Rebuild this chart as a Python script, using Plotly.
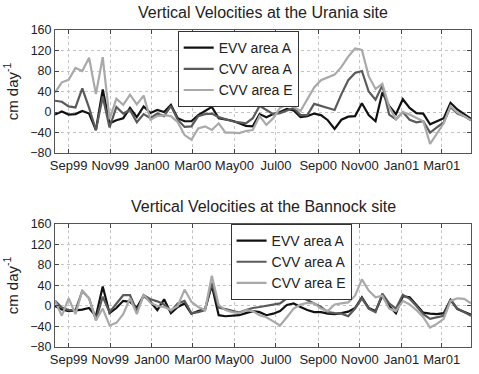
import pandas as pd
import plotly.graph_objects as go
from plotly.subplots import make_subplots

# ~10-day sampling dates
dates = pd.date_range("1999-08-12", periods=62, freq="10D")

series_names = ["EVV area A", "CVV area A", "CVV area E"]
tick_dates = ["1999-09-01", "1999-11-01", "2000-01-01", "2000-03-01", "2000-05-01",
              "2000-07-01", "2000-09-01", "2000-11-01", "2001-01-01", "2001-03-01"]
tick_labels = ["Sep99", "Nov99", "Jan00", "Mar00", "May00",
               "Jul00", "Sep00", "Nov00", "Jan01", "Mar01"]

urania_evv_a = [-5, 1, -5, -4, 2, -3, -35, 44, -22, -16,
                -12, 8, -10, 11, -2, 4, 0, 14, -12, -18,
                -18, -6, 2, 10, -12, -15, -17, -22, -27, -28,
                -4, -10, -4, 0, 6, 3, -10, -8, -3, -6,
                -16, -33, -15, -9, -8, 17, -6, -18, 38, 12,
                -4, 25, 8, -2, -3, -24, -18, -12, 18, 5,
                -4, -13]
urania_cvv_a = [22, 20, 11, 9, 46, 8, -35, 30, -30, 10,
                -3, 4, -20, -4, -12, -3, -8, 12, -15, -29,
                -28, -8, -4, -3, -10, -14, -18, -20, -22, -12,
                12, 4, -4, -2, 3, 8, -6, -6, 16, 12,
                8, 4, 35, 62, 76, 80, 40, 24, 52, -5,
                -14, 0, -15, -20, -18, -40, -30, -20, 10, -3,
                -8, -16]
urania_cvv_e = [38, 58, 63, 86, 80, 106, 35, 107, -14, 26,
                14, 34, 15, 32, -15, -8, -6, -8, -20, -45,
                -54, -32, -28, -35, -22, -40, -40, -41, -37, -35,
                -8, -25, -12, 8, 15, 10, 2, 25, 48, 62,
                68, 73, 88, 108, 124, 121, 70, 45, 55, 10,
                -14, 0, -5, -12, -18, -62, -42, -22, 12, -1,
                -8, -16]

bannock_evv_a = [0, -7, -10, -9, -7, -4, -20, 38, -14, -4,
                 10, 8, -3, 20, 8, -8, 13, -14, -2, 5,
                 -15, -10, -6, 40, -18, -20, -19, -18, -14, -10,
                 -12, -18, -15, -10, 2, 5, -2, -8, -12, -12,
                 -15, -16, -14, -11, -4, 17, -4, -10, 20, 0,
                 -14, 19, 17, 3, -13, -15, -16, -14, 12, -6,
                 -12, -17]
bannock_cvv_a = [10, -3, -8, -8, 29, 15, -27, 18, -12, 5,
                 21, 21, -10, 21, 13, 9, 3, -10, 5, 10,
                 -14, -12, -8, 45, -3, -6, -9, -13, -8, -4,
                 -2, 0, 2, 5, 15, 21, 18, 12, 5, -2,
                 -12, -14, -15, -20, -5, 15, -5, -12, 24, 5,
                 -5, 22, 14, 0, -16, -25, -22, -19, 13, -5,
                 -12, -19]
bannock_cvv_e = [10, -19, 15, -16, 30, 15, -28, -5, -38, -33,
                 -16, 15, -16, 22, 6, 0, -2, -8, 0, 32,
                 8, -2, -8, 59, 2, -8, -12, -14, -8, -10,
                 -18, -22, -30, -38, -22, -5, 3, 6, 5, -5,
                 -10, 3, 5, 7, 20, 52, 30, 17, 20, -5,
                 -10, 10, 3, -8, -22, -42, -35, -25, 10, 15,
                 14, 5]

titles = ["Vertical Velocities at the Urania site",
          "Vertical Velocities at the Bannock site"]
colors = ["#111111", "#5a5a5a", "#a9a9a9"]

FONT = "Liberation Sans, Arial, sans-serif"
TXT = "#222222"

fig = make_subplots(rows=2, cols=1, vertical_spacing=0.0)

panels = [(urania_evv_a, urania_cvv_a, urania_cvv_e),
          (bannock_evv_a, bannock_cvv_a, bannock_cvv_e)]
for r, vals in enumerate(panels, start=1):
    for k, (name, ys) in enumerate(zip(series_names, vals)):
        fig.add_trace(go.Scatter(
            x=dates, y=ys, mode="lines", name=name,
            line=dict(color=colors[k], width=2.2),
            legend="legend" if r == 1 else "legend2",
            showlegend=True), row=r, col=1)

# axis domains (plot area in pixels: top 30..155, bottom 227..352)
M_T, M_B = 30, 22
H = 374 - M_T - M_B
def py(pix):
    return (374 - M_B - pix) / H

fig.update_layout(
    width=479, height=374,
    margin=dict(l=55, r=7, t=M_T, b=M_B),
    paper_bgcolor="white", plot_bgcolor="white",
    font=dict(family=FONT, color=TXT, size=12.5),
    yaxis=dict(domain=[py(155), py(30)]),
    yaxis2=dict(domain=[py(352), py(227)]),
)

for r in (1, 2):
    fig.update_xaxes(
        row=r, col=1,
        range=[dates[0], dates[-1]],
        tickmode="array", tickvals=tick_dates, ticktext=tick_labels,
        ticks="inside", ticklen=4, tickcolor="#444",
        showline=True, linecolor="#555", linewidth=1, mirror="allticks",
        showgrid=True, gridcolor="#c4c4c4", griddash="dot", gridwidth=1,
        tickfont=dict(size=13, family=FONT, color=TXT),
        zeroline=False)
    fig.update_yaxes(
        row=r, col=1,
        range=[-80, 160], tick0=-80, dtick=40,
        ticks="inside", ticklen=4, tickcolor="#444",
        showline=True, linecolor="#555", linewidth=1, mirror="allticks",
        showgrid=True, gridcolor="#c4c4c4", griddash="dot", gridwidth=1,
        tickfont=dict(size=12.5, family=FONT, color=TXT),
        title=dict(text="cm day<sup>-1</sup>", font=dict(size=15, family=FONT, color=TXT), standoff=8),
        zeroline=False)

legend_common = dict(
    bgcolor="white", bordercolor="#333", borderwidth=1,
    font=dict(size=14, family=FONT, color=TXT),
    xanchor="left", yanchor="top",
)
fig.update_layout(
    legend=dict(x=(178 - 55) / 417, y=py(31), **legend_common),
    legend2=dict(x=(231 - 55) / 417, y=py(227), **legend_common),
)

# panel titles
for t, ypix in zip(titles, (12, 209)):
    fig.add_annotation(text=t, xref="paper", yref="paper",
                       x=0.5, y=py(ypix), xanchor="center", yanchor="middle",
                       showarrow=False, font=dict(size=16, family=FONT, color=TXT))

fig.write_html("out.html")
